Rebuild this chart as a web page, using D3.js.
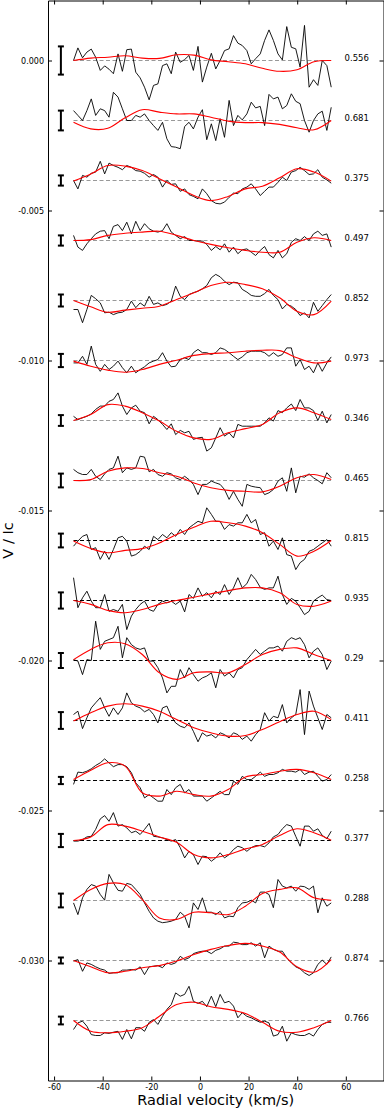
<!DOCTYPE html>
<html>
<head>
<meta charset="utf-8">
<script src="https://cdn.jsdelivr.net/npm/d3@7"></script>
<style>
  body { margin: 0; background: #fff; }
  text { font-family: "DejaVu Sans", sans-serif; }
</style>
</head>
<body>
<div id="chart"></div>
<script>
// Rotational phase of each profile (label on the right)
var phases = ["0.556", "0.681", "0.375", "0.497", "0.852", "0.973", "0.346", "0.465",
  "0.815", "0.935", "0.29", "0.411", "0.258", "0.377", "0.288", "0.874", "0.766"];

// Vertical shift of each profile (V/Ic)
var offsets = [0, -0.002, -0.004, -0.006, -0.008, -0.010, -0.012, -0.014, -0.016,
  -0.018, -0.020, -0.022, -0.024, -0.026, -0.028, -0.030, -0.032];

// Error bar half size, units of 1e-4 V/Ic
var errs = [4.7, 3.3, 1.7, 1.7, 2.0, 2.2, 1.8, 2.3, 2.3, 2.7, 2.5, 2.8, 1.2, 2.2, 2.3, 1.0, 1.3];

// Velocity grid of the observed profiles (km/s)
var vel = [-52.0, -50.2, -48.3, -46.5, -44.7, -42.9, -41.0, -39.2, -37.4, -35.6,
  -33.7, -31.9, -30.1, -28.2, -26.4, -24.6, -22.8, -20.9, -19.1, -17.3,
  -15.4, -13.6, -11.8, -10.0, -8.1, -6.3, -4.5, -2.7, -0.8, 1.0,
  2.8, 4.7, 6.5, 8.3, 10.1, 12.0, 13.8, 15.6, 17.4, 19.3,
  21.1, 22.9, 24.8, 26.6, 28.4, 30.2, 32.1, 33.9, 35.7, 37.6,
  39.4, 41.2, 43.0, 44.9, 46.7, 48.5, 50.3, 52.2, 54.0];

// Velocity grid of the model profiles (km/s)
var mvel = [-52.0, -44.9, -37.9, -30.8, -23.7, -16.7, -9.6, -2.5, 4.5, 11.6,
  18.7, 25.7, 32.8, 39.9, 46.9, 54.0];

// Observed Stokes V, units of 1e-4 V/Ic relative to the offset
var obs = [
  [0, 4.2, 0.9, 2.8, 3.8, 1.1, -3.3, -1.8, -2.9, -4.4, 2.2, -3.6, 3.6, 3.8, -3.9, -5.8, -8.9, -13.1, -8.3, -7.8,
   -1.7, -1.1, -4.4, 2.8, -0.6, 0.3, 1.7, -3.3, 4.7, -7.2, -2.2, 2.4, -2.8, 0, 3.3, 3.9, 8.3, 5.8, 5, 3.3,
   -1.1, 0.6, 2.2, 6.7, 10.2, 6.7, 2.2, 0.2, 11.3, 4.4, 3.9, -2.2, 11.7, -8.9, -6.4, -8.3, 0, -1.7, -8.9],
  [3.3, 1.7, 0, 3.3, 7.2, 1.7, 3.9, 3.3, 1.1, 9.4, 7.8, 3.9, 0, 0, 1.7, 1.1, 2.2, 0, -1.7, -3.3,
   -0.6, -6.1, -8.7, -8.9, -9.4, -2, -0.6, -2.8, 1.1, 3.6, -6.4, -1.1, -6.7, 0.6, -5.6, 6.7, -1.7, 1.7, 0.2, 2.2,
   6.1, 4.2, 4.7, -1.7, 8.7, 7.2, 7.8, 3.9, 5, 8.9, 6.4, 5.6, 0, -3.9, 0, 2.2, 3.1, -3.3, 4.4],
  [0, -2.8, 1.7, 1.1, 2.4, 2.8, 6.4, 2.2, 5.8, 5, 4.4, 3.6, 5, 4.4, 3.3, 3.1, 2.4, 1.1, 2, 1.1,
   -2.2, 0, -1.3, -1.1, -3.6, -2.8, -4.7, -5.3, -6.1, -2.8, -4.4, -6.7, -7.6, -7.8, -7.2, -5.6, -4.2, -4.4, -2.8, -2.2,
   -1.1, -2.8, -5, -3.6, -2.2, -2.2, -0.6, 1.1, 0, 2.8, 3.3, 4.4, 3.3, 2, 2.2, 3.6, 1.1, 0.2, -0.9],
  [1.7, -2.2, -3.3, -1.1, 0.6, 2.2, 3.1, 3.3, 0.6, 4.7, 5.3, 3.3, 6.1, 2.2, 6.4, 3.3, 5.6, 3.9, 3.1, 2.8,
   3.3, 5.6, 2.8, 1.7, 0.6, 1.3, 0, 0, -0.2, -0.2, -1.3, -3.3, -2, -3.1, -1.1, -3.9, -2.2, -4.4, -3.1, -2.8,
   -3.9, -5, -3.3, -2, -4.7, -5.8, -3.3, -5.8, -4.4, -0.6, 0.6, 0, 1.3, 0, 2.2, 3.1, 1.7, 2.2, -2.2],
  [-3, -3, -7.4, -3, 1.7, 0.6, -0.8, -4.1, -3.9, -4.7, -4.1, -3.9, -3, -0.2, -2.4, -0.8, -1.9, 1.4, -1.3, -0.8,
   -1.7, -1.3, -0.2, 4.8, 1.4, 0.3, 2, 2.6, 3.1, 3.9, 5, 7.6, 8.7, 7.9, 6.4, 5.3, 6.1, 5.9, 3.7, 2.8,
   1.7, 1.4, 1.4, 2.3, 3.7, 1.7, 0.3, -2.8, -1.3, -1.9, -3, -5, -4.1, -5.8, -0.6, -3.6, -1.7, 0.3, 2],
  [-0.8, -0.8, 1.4, -1.3, 4.8, -1.3, -3.6, -1.3, -3, -1.9, -0.2, -2.4, -4.1, -1.9, -4.1, -3, -2.1, -0.8, -0.2, 0.3,
   2.6, -0.2, -2.1, -1.9, 0.3, 0.9, 0.3, 2.6, 3.7, 2.6, 2.6, 2, 2.6, 4.2, 3.7, 2.6, 1.4, 0.3, 1.2, 2.6,
   3.1, 3.1, 3.1, 2.6, 1.4, 2.6, 1.4, 2, 4.2, 4.2, -1.9, 0.3, -3, -1.9, -4.1, -0.8, -3.6, -0.8, 1.2],
  [1.4, 0.3, 0.9, 1.4, 2.2, 3.7, 4.8, 4.8, 6.4, 7, 9.2, 4.8, 2, 4.2, 5.1, 3.1, 2.6, -1.1, 1.4, 0.3,
   -1.3, -3, -1.1, -4.7, -3.3, -4.1, -3.6, -6.3, -5.8, -5.6, -10.2, -9.1, -5.8, -2.4, -5.2, -4.1, -5.8, -1.3, -1.9, -1.9,
   -1.9, -1.9, -1.9, -0.8, 0.9, -0.2, 3.3, 2.6, 4.2, 5.5, 3.3, 7, 4.2, 4.2, 3.3, 0, 3.1, -0.8, 2],
  [3.7, 2.6, 2, 2, 3.7, 1.4, 0.3, 2.2, 3.7, 4.2, 8.1, 2.6, 4.2, 3.7, 4.2, 8.1, 7.8, 2.9, 3.7, 2,
   1.4, 2.6, 2.2, 0.9, 0.3, 1.4, 0.3, -1.3, -4.7, -1.3, -1.3, -0.2, -0.8, -1.3, -3, -6.3, -3.6, -6.3, -8.6, -1.3,
   -1.9, -2.2, -2.4, -4.7, -4.1, -3, -0.2, 0.9, -3.6, 4.2, -4.1, 1.4, 1.1, 2.2, 0.9, 0, -1.1, 2.6, 0.9],
  [-1.9, -0.2, 1.4, 2, -3, -2.4, -6.3, -3.6, -6.3, -3, 0.9, 1.4, -0.2, -5.2, -4.7, -3.6, -1.9, -3, 1.4, 0.3,
   2, 0.9, 2.6, 1.4, 3.7, 2, 4.2, 5.3, 6.4, 5.9, 10.9, 8.7, 6.4, 6.4, 3.7, 5.3, 4.8, 5.9, 5.9, 8.7,
   5.9, 7, 2, 2.6, -1.9, -0.2, -3, 0.9, -4.7, -5.2, -9.7, -7.4, -6.3, -3.6, -3, -1.9, -0.8, 0.3, -1.9],
  [7.6, -2.4, 0.9, 3.1, -0.2, -2.4, -2.4, 2, -3.6, -3, -3.6, -1.3, -9.7, -5.2, -3, -1.3, -0.2, -3, -3.6, -1.3,
   -0.2, -0.8, -0.2, -1.3, -0.2, -3.8, 2, 0.7, 4.2, 1.4, 2.6, 0.9, 3.1, 2, 5.3, 2, 4.2, 7.6, 4.2, 5.6,
   8.7, 7, 4.4, 3.7, 4.2, 4.2, 8.1, 2, -1.3, 0.7, -0.2, -2.4, -4.7, -3.6, -0.2, 0.9, 1.8, 0.3, 0],
  [0.3, -0.2, -4.7, 0.3, 0, 13.1, 3.7, 6.4, 7, 7.6, 11.4, 0.9, 7.6, 5.3, 4.2, 3.7, 4.2, -0.2, -0.2, -2.4,
   -5.8, -10.8, -8.6, -8.6, -3, -5.8, -2.4, -4.7, -6.9, -5.8, -5.2, -4.1, -9.1, -3, -5.2, -4.1, -5.8, -3, -2.4, 0.3,
   2, 3.7, 2, 3.1, 4.2, 4.2, 4.8, 3.1, 6.4, 7.6, 7, 7.6, 5.3, 0.9, 3.1, 4.2, 2, -3, -0.2],
  [2, 3.1, -2.7, 0.9, 4.2, 5.9, 7.6, 4.2, 1.4, 4.2, 2, 4.2, 9.2, 5.9, 4.8, 4.2, 2.9, 3.7, 2, -0.8,
   4.2, 4.8, 1.4, -0.8, -1.9, -2.4, -0.8, -3.6, -7.1, -4.1, -5.2, -4.7, -5.8, -4.1, -4.7, -5.8, -4.1, -4.7, -6.3, -5.2,
   -6.9, -4.7, -3, 2.6, -0.2, 1.4, 0.9, 5.3, -0.8, 0.9, 2, 10.3, -4.7, 9.8, 4.8, 0.9, -3, 2, 0.9],
  [-1.3, 2.8, 2.6, 3.1, 3.9, 5, 5.9, 7.2, 5.9, 4.6, 5.3, 5.3, 4.6, 2.6, -0.8, -2.4, -5.8, -4.7, -5.8, -6.9,
   -6.9, -3, -4.7, -2.4, -1.3, -4.1, -3, -5.2, -5.2, -5.2, -6.9, -5.8, -4.7, -3.6, -4.7, -4.7, -0.2, -1.3, 1.4, 0.3,
   0.3, 1.4, 2.8, 1.4, 2, 2, 2.6, 3.7, 3.1, 3.1, 2.8, 3.7, 2, 2.8, 3.1, 1.4, -0.2, 0.3, 2],
  [-0.2, -0.2, 0.3, 1.2, 1.4, 3.7, 7.2, 8.3, 6.4, 9.3, 4.8, 5.3, 4.2, 2.6, 3.1, 2, 3.7, 5.7, 1.4, 1.2,
   0.9, 0.3, -0.2, 0.3, -2.4, -5.8, -3.6, -4.7, -8, -5.2, -5.4, -6.9, -5.8, -4.1, -5.8, -4.7, -3, -1.9, -2.4, -3.6,
   -2.4, -1.7, -1.7, -2.1, -0.8, 1.2, 2, 3.9, 5.3, 4.8, 1.4, -1.9, 4.8, 4.8, 3.1, 3.9, 1.7, 0.6, 3.1],
  [-0.8, -4.7, 0.9, 3.7, 5.3, 4.8, 2, 0.1, 8.7, 5.9, 3.4, 3.1, 5.7, 5.3, 3.7, 2, -0.8, -3.6, -5.8, -6.9,
   -7.4, -7.2, -6.9, -6.3, -3.9, -5.2, -9.1, -0.8, -3, 0.9, -3.9, -3.9, -4.7, -3.6, -5.8, -5.2, -5.4, -2.4, -0.8, -0.6,
   0.1, -0.8, 2.8, 2.8, 2, -2.4, 7, 4.8, 4.2, 4.8, 3.1, 4.8, 4.6, 3.7, 4.8, -4.1, 0.9, -1.9, -0.8],
  [-0.2, 0.3, -3.6, -0.8, -1.3, -2.1, -2.8, -3.2, -4.3, -4.1, -4.1, -3.2, -3.2, -3, -3.2, -2.1, -4.7, -2.1, -1.9, -1.7,
   -2.4, -0.8, -1.3, -0.8, 1.4, 0.3, 0.9, 2.3, 2.8, 3.1, 3.1, 2.3, 3.4, 3.9, 4.8, 4.8, 6.1, 5.9, 5.3, 5.3,
   5.9, 4.8, 5.9, 0.9, 4.8, 3.7, 3.1, 3.1, 0.9, -0.8, -2.1, -2.8, -4.1, -5, -4.1, -1.3, 0.1, -1.3, 1.2],
  [-3, -0.8, -0.2, -1.9, -4.7, -5, -5, -4.1, -4.3, -3.9, -3.6, -6.3, -3, -6.1, -2.4, -2.4, -3.6, -0.6, 0.3, -1.3,
   1.4, 3.7, 5.3, 9.2, 8.1, 8.7, 11.4, 6.4, 5.7, 6.4, 4.6, 8.1, 4.6, 8.7, 5.9, 6.4, 4.8, 0.9, 2.6, 1.4,
   0.9, 0.1, -0.6, -0.2, -0.8, -5.2, -4.7, -1.9, -6.9, -4.1, -4.7, -5, -5, -4.3, -5.2, -3, -1.3, -0.6, -0.6]
];

// Model Stokes V, units of 1e-4 V/Ic relative to the offset
var model = [
  [0, 0.8, 1.1, 1.6, 0.8, 0.7, 1.9, 1.8, 0.2, -0.4, -1.1, -2.6, -3.6, -3.1, -0.4, 0],
  [-0.6, -2.8, -2.6, 0.9, 3.6, 2.8, 2.2, 2.2, 1.1, -0.2, -0.7, -0.7, -1.3, -2.4, -3.1, 0],
  [-0.2, 2.2, 5, 4.8, 3.3, 0.6, -2.2, -5, -6.7, -5.3, -2.8, -1.9, 0.9, 3.9, 2.8, -0.2],
  [0, 0.3, 1.7, 2.4, 2.8, 3.1, 1.7, 0, -1.3, -2.4, -3.3, -3.9, -3.9, -0.6, 0.9, 0],
  [0, -2.1, -3.9, -3.2, -2.6, -1.9, 0.3, 2.6, 5, 6.1, 5.3, 3.9, 0.9, -3.6, -4.7, -0.2],
  [-0.2, -1.9, -3.2, -3.9, -3, -1.3, 0.1, 1.7, 2.3, 2.6, 3.1, 3.4, 3.3, 0.9, -0.8, -0.2],
  [0, 2, 5.3, 4.8, 2.6, -0.2, -3.6, -5.8, -6.3, -4.1, -2.7, -1.3, 2.6, 4.2, 2.6, 0.3],
  [0, 0.3, 3.1, 4.2, 4, 2.6, 1.4, -0.8, -2.4, -3.3, -3.6, -3.8, -1.9, 0.9, 2, 0.3],
  [-0.2, -2.7, -4.1, -3.3, -2.7, -0.8, 2, 4.4, 6.4, 5.9, 4.8, 2.6, -1.3, -5.2, -3.6, 0],
  [0, -1.3, -3.3, -4.1, -3, -1.3, 0, 1.1, 2.2, 3.3, 4.2, 4.2, 2.6, -1.3, -1.9, -0.2],
  [0.3, 3.7, 5.9, 5.6, 2, -4.1, -6.3, -4.1, -3.8, -4.1, -1.3, 2, 3.7, 4.2, 2, 0],
  [-0.2, 2.6, 4.8, 5.6, 4.8, 3.1, 0.3, -2.4, -4.1, -5.2, -5, -3, -0.4, 2, 3.1, 0.3],
  [0.3, 3.4, 5.9, 4.8, -4.1, -5.2, -3.6, -4.7, -5.2, -3, 1.2, 2, 3.1, 3.7, 2.6, 0.3],
  [0, 1.2, 5.3, 4.8, 3.1, 1.2, -0.6, -4.7, -5.8, -4.7, -2.8, -1.3, 1.7, 3.9, 2.6, 0.1],
  [0, 3.7, 5.7, 5.3, 0.3, -5.8, -6.3, -3.9, -4.1, -4.7, -1.9, 2.3, 3.7, 4.2, 0.9, 0.1],
  [0, -2.1, -4.1, -3.6, -2.4, -1.7, -0.2, 2, 3.7, 5, 5.7, 4.8, 2.8, -2.1, -3.9, 0.3],
  [0, -3.6, -4.1, -3.6, -2.4, 1.4, 5.3, 6.1, 4.6, 3.7, 2.3, -0.6, -3.6, -3.9, -2.4, 0]
];

var yTicks = [0, -0.005, -0.010, -0.015, -0.020, -0.025, -0.030];
var xTicks = [-60, -40, -20, 0, 20, 40, 60];

// style of the zero line for each profile
var baseColor = ["#999", "#999", "#999", "#999", "#999", "#999", "#999", "#999",
  "#000", "#000", "#000", "#000", "#000", "#000", "#999", "#999", "#999"];

var unit = 1e-4;
var errVel = -57.2;
var labelVel = 59.5;

var svgWidth = 384;
var svgHeight = 1110;

var svg = d3.select("#chart")
  .append("svg")
  .attr("width", svgWidth)
  .attr("height", svgHeight);

var x = d3.scaleLinear().domain([-62.5, 75.5]).range([48, 383.5]);
var y = d3.scaleLinear().domain([-0.034, 0.002]).range([1080.5, 0.5]);

// profiles
var obsLine = d3.line();
var modelLine = d3.line().curve(d3.curveCatmullRom.alpha(0.5));

offsets.forEach(function(off, i) {
  var g = svg.append("g");

  g.append("line")
    .attr("x1", x(vel[0]))
    .attr("x2", x(vel[vel.length - 1]))
    .attr("y1", y(off))
    .attr("y2", y(off))
    .attr("stroke", baseColor[i])
    .attr("stroke-width", 1)
    .attr("stroke-dasharray", "4,2.5");

  g.append("path")
    .attr("d", obsLine(obs[i].map(function(d, j) { return [x(vel[j]), y(off + d * unit)]; })))
    .attr("fill", "none")
    .attr("stroke", "#000")
    .attr("stroke-width", 0.9);

  g.append("path")
    .attr("d", modelLine(model[i].map(function(d, j) { return [x(mvel[j]), y(off + d * unit)]; })))
    .attr("fill", "none")
    .attr("stroke", "#ff0000")
    .attr("stroke-width", 1.1);

  // error bar
  var ex = x(errVel);
  var top = y(off + errs[i] * unit);
  var bot = y(off - errs[i] * unit);
  g.append("line")
    .attr("x1", ex).attr("x2", ex)
    .attr("y1", top).attr("y2", bot)
    .attr("stroke", "#000").attr("stroke-width", 2);
  [top, bot].forEach(function(cy) {
    g.append("line")
      .attr("x1", ex - 3).attr("x2", ex + 3)
      .attr("y1", cy).attr("y2", cy)
      .attr("stroke", "#000").attr("stroke-width", 2);
  });

  g.append("text")
    .attr("x", x(labelVel))
    .attr("y", y(off))
    .attr("font-size", "8.5px")
    .attr("fill", "#000")
    .text(phases[i]);
});

// axes, ticks pointing in
var left = svg.append("g")
  .attr("transform", "translate(" + x.range()[0] + ",0)")
  .call(d3.axisLeft(y).tickValues(yTicks).tickSizeInner(-4).tickSizeOuter(0).tickPadding(4)
    .tickFormat(function(d) { return d.toFixed(3); }));

var right = svg.append("g")
  .attr("transform", "translate(" + x.range()[1] + ",0)")
  .call(d3.axisRight(y).tickValues(yTicks).tickSizeInner(-4).tickSizeOuter(0).tickFormat(""));

var bottom = svg.append("g")
  .attr("transform", "translate(0," + y.range()[0] + ")")
  .call(d3.axisBottom(x).tickValues(xTicks).tickSizeInner(-4).tickSizeOuter(0).tickPadding(4)
    .tickFormat(function(d) { return String(d); }));

var topAxis = svg.append("g")
  .attr("transform", "translate(0," + y.range()[1] + ")")
  .call(d3.axisTop(x).tickValues(xTicks).tickSizeInner(-4).tickSizeOuter(0).tickFormat(""));

svg.selectAll(".tick text")
  .attr("font-family", "DejaVu Sans")
  .attr("font-size", "8px")
  .attr("fill", "#000");
svg.selectAll(".domain, .tick line").attr("stroke", "#000");

// axis titles
svg.append("text")
  .attr("transform", "translate(13," + ((y.range()[0] + y.range()[1]) / 2) + ") rotate(-90)")
  .attr("text-anchor", "middle")
  .attr("font-size", "14.5px")
  .text("V / Ic");

svg.append("text")
  .attr("x", (x.range()[0] + x.range()[1]) / 2)
  .attr("y", 1105)
  .attr("text-anchor", "middle")
  .attr("font-size", "14.5px")
  .text("Radial velocity (km/s)");
</script>
</body>
</html>
